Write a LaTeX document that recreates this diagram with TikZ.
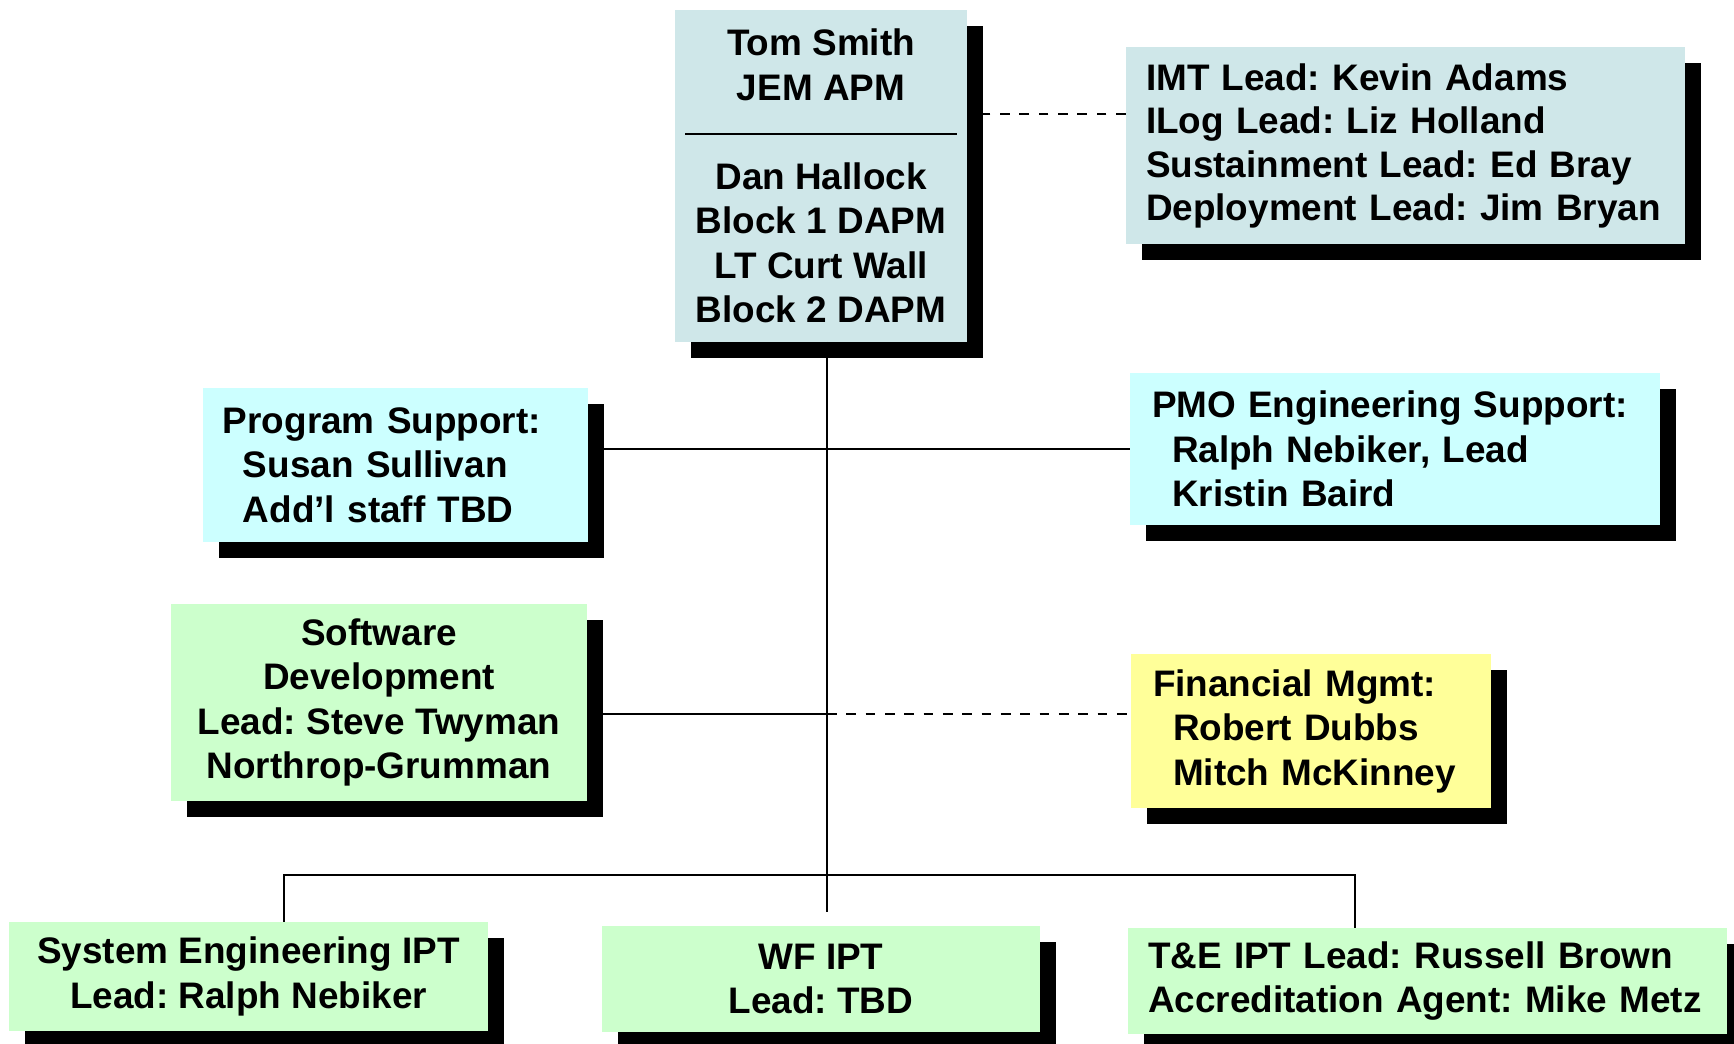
\documentclass[tikz,border=0pt]{standalone}
\usepackage{fontspec}
\setmainfont{Liberation Sans}
\usetikzlibrary{shadows}
\frenchspacing

\definecolor{leadblue}{RGB}{207,231,233}
\definecolor{staffcyan}{RGB}{204,255,255}
\definecolor{iptgreen}{RGB}{204,255,204}
\definecolor{finyellow}{RGB}{255,255,153}

\begin{document}
\begin{tikzpicture}[x=0.2mm, y=-0.2mm,
  box/.style = {rectangle, inner sep=0pt, font=\fontsize{21}{25.3}\selectfont\bfseries,
                drop shadow={shadow xshift=3.2mm, shadow yshift=-3.2mm, fill=black, opacity=1}},
  link/.style = {line width=1.1pt},
  dashlink/.style = {line width=1.1pt, dash pattern=on 5.5pt off 5.5pt}]

\useasboundingbox (0,0) rectangle (1734,1044);

%--- Nodes ---
% apm
\node[box, fill=leadblue, minimum width=5.84cm, minimum height=6.64cm, align=center] (apm) at (821,176)
  {Tom Smith\\JEM APM\\\rule[0.19cm]{5.44cm}{1.1pt}\\Dan Hallock\\Block 1 DAPM\\LT Curt Wall\\Block 2 DAPM};

% imt
\node[box, fill=leadblue, minimum height=3.94cm, inner xsep=0.4cm, text width=10.38cm, align=left,
      font=\fontsize{21}{24.8}\selectfont\bfseries] (imt) at (1405.5,146)
  {IMT Lead: Kevin Adams\\ILog Lead: Liz Holland\\Sustainment Lead: Ed Bray\\Deployment Lead: Jim Bryan};

% progsup
\node[box, fill=staffcyan, minimum height=3.08cm, inner xsep=0.4cm, text width=6.9cm, align=left] (progsup) at (395.5,465)
  {Program Support:\\\hspace*{0.4cm}Susan Sullivan\\\hspace*{0.4cm}Add'l staff TBD};

% pmo
\node[box, fill=staffcyan, minimum height=3.04cm, inner xsep=0.44cm, text width=9.72cm, align=left] (pmo) at (1395,449)
  {PMO Engineering Support:\\\hspace*{0.4cm}Ralph Nebiker, Lead\\\hspace*{0.4cm}Kristin Baird};

% swdev
\node[box, fill=iptgreen, minimum width=8.32cm, minimum height=3.94cm, align=center] (swdev) at (379,702.5)
  {Software\\Development\\Lead: Steve Twyman\\Northrop-Grumman};

% finance
\node[box, fill=finyellow, minimum height=3.08cm, inner xsep=0.44cm, text width=6.32cm, align=left] (finance) at (1311,731)
  {Financial Mgmt:\\\hspace*{0.4cm}Robert Dubbs\\\hspace*{0.4cm}Mitch McKinney};

% IPTs
\node[box, fill=iptgreen, minimum width=9.58cm, minimum height=2.18cm, align=center] (syseng) at (248.5,976.5)
  {System Engineering IPT\\Lead: Ralph Nebiker};
\node[box, fill=iptgreen, minimum width=8.76cm, minimum height=2.12cm, align=center] (wf) at (821,979)
  {WF IPT\\Lead: TBD};
\node[box, fill=iptgreen, minimum height=2.12cm, inner xsep=0.4cm, text width=11.18cm, align=left] (te) at (1427.5,981)
  {T\&E IPT Lead: Russell Brown\\Accreditation Agent: Mike Metz};

%--- Coordinates ---
\coordinate (trunk) at (827,342);
\coordinate (trunk end) at (827,912);
\coordinate (imt tap) at ([yshift=6.4mm]imt.west);
\coordinate (sw tap) at (827,714);
\coordinate (bus left) at (284,875);
\coordinate (bus right) at (1355,875);

%--- apm -> imt (dashed) ---
\draw[dashlink] (imt tap) -- (imt tap -| apm.east);

%--- trunk down to WF ---
\draw[link] (trunk) -- (trunk end);

%--- program support <-> pmo ---
\draw[link] (pmo.west) -- (pmo.west -| progsup.east);

%--- swdev -> trunk, trunk -> finance (dashed) ---
\draw[link] (sw tap -| swdev.east) -- (sw tap);
\draw[dashlink] (sw tap) -- (sw tap -| finance.west);

%--- bus to the IPTs ---
\draw[link] (bus left |- syseng.north) -- (bus left) -- (bus right) -- (bus right |- te.north);

\end{tikzpicture}
\end{document}
